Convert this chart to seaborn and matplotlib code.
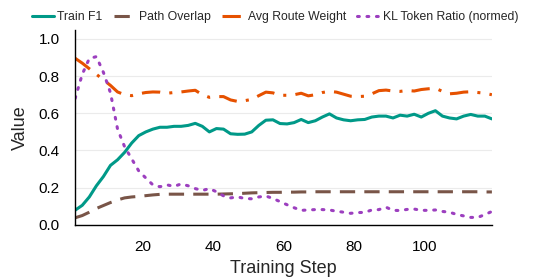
import numpy as np
import pandas as pd
import seaborn as sns
import matplotlib.pyplot as plt

# values, every 2nd training step
steps = list(range(1, 120, 2))

train_f1 = [0.079, 0.105, 0.15, 0.21, 0.26, 0.32, 0.35, 0.39, 0.44, 0.48,
            0.50, 0.515, 0.525, 0.525, 0.53, 0.53, 0.535, 0.546, 0.53, 0.50,
            0.518, 0.515, 0.49, 0.487, 0.488, 0.50, 0.535, 0.563, 0.565, 0.545,
            0.543, 0.55, 0.567, 0.55, 0.56, 0.58, 0.597, 0.575, 0.565, 0.56,
            0.565, 0.567, 0.58, 0.585, 0.585, 0.575, 0.59, 0.585, 0.595, 0.58,
            0.60, 0.614, 0.585, 0.575, 0.57, 0.585, 0.594, 0.585, 0.585, 0.57]

path_overlap = [0.038, 0.05, 0.068, 0.088, 0.104, 0.12, 0.134, 0.145, 0.15, 0.153,
                0.157, 0.161, 0.164, 0.165, 0.165, 0.165, 0.165, 0.165, 0.165, 0.165,
                0.165, 0.166, 0.167, 0.168, 0.17, 0.172, 0.173, 0.174, 0.175, 0.175,
                0.176, 0.176, 0.177, 0.177, 0.178, 0.178, 0.178, 0.178, 0.178, 0.178,
                0.178, 0.178, 0.178, 0.178, 0.178, 0.178, 0.178, 0.178, 0.178, 0.178,
                0.178, 0.178, 0.178, 0.178, 0.178, 0.178, 0.178, 0.178, 0.177, 0.177]

route_weight = [0.896, 0.87, 0.84, 0.81, 0.78, 0.75, 0.715, 0.70, 0.695, 0.705,
                0.712, 0.715, 0.714, 0.708, 0.712, 0.715, 0.72, 0.724, 0.70, 0.686,
                0.69, 0.69, 0.672, 0.664, 0.668, 0.675, 0.695, 0.714, 0.71, 0.697,
                0.697, 0.70, 0.708, 0.694, 0.70, 0.712, 0.718, 0.714, 0.703, 0.692,
                0.69, 0.692, 0.705, 0.722, 0.725, 0.72, 0.718, 0.723, 0.72, 0.728,
                0.732, 0.735, 0.718, 0.705, 0.708, 0.714, 0.716, 0.712, 0.708, 0.70]

kl_ratio = [0.68, 0.81, 0.895, 0.905, 0.82, 0.71, 0.515, 0.42, 0.355, 0.29,
            0.252, 0.215, 0.205, 0.215, 0.207, 0.22, 0.21, 0.195, 0.185, 0.195,
            0.178, 0.156, 0.145, 0.15, 0.142, 0.14, 0.15, 0.155, 0.142, 0.125,
            0.108, 0.092, 0.078, 0.08, 0.082, 0.082, 0.08, 0.073, 0.068, 0.062,
            0.066, 0.067, 0.08, 0.082, 0.095, 0.078, 0.077, 0.083, 0.085, 0.078,
            0.078, 0.08, 0.072, 0.068, 0.056, 0.048, 0.04, 0.04, 0.055, 0.072]

sns.set_theme(style="whitegrid")
plt.rcParams['font.family'] = ['Liberation Sans', 'DejaVu Sans']

fig, ax = plt.subplots(figsize=(5.37, 2.8), dpi=100)
fig.subplots_adjust(left=0.14, right=0.916, bottom=0.197, top=0.894)

series = [
    ('Train F1', train_f1, '#009988', '-'),
    ('Path Overlap', path_overlap, '#795548', (0, (5, 3))),
    ('Avg Route Weight', route_weight, '#e65100', (0, (6, 3, 1, 3))),
    ('KL Token Ratio (normed)', kl_ratio, '#9c3fbf', (0, (0.6, 2.5))),
]
for name, vals, col, ls in series:
    sns.lineplot(x=steps, y=vals, ax=ax, color=col, linestyle=ls,
                 linewidth=2.2, label=name,
                 dash_capstyle='round' if name.startswith('KL') else 'butt')

ax.set_xlim(1, 119)
ax.set_ylim(0, 1.05)
ax.set_xticks([20, 40, 60, 80, 100])
ax.set_yticks([0, 0.2, 0.4, 0.6, 0.8, 1.0])
ax.set_yticklabels(['0.0', '0.2', '0.4', '0.6', '0.8', '1.0'])
ax.grid(axis='x', visible=False)
ax.grid(axis='y', color='#ebebeb', linewidth=0.8)
for s in ['top', 'right']:
    ax.spines[s].set_visible(False)
for s in ['left', 'bottom']:
    ax.spines[s].set_color('black')
    ax.spines[s].set_linewidth(1.0)
ax.tick_params(axis='both', direction='out', length=6, width=1, color='black',
               labelsize=11, labelcolor='black', pad=5)
ax.set_xlabel('Training Step', fontsize=13, labelpad=4)
ax.set_ylabel('Value', fontsize=13, labelpad=7)

ax.get_legend().remove()
handles, labels = ax.get_legend_handles_labels()
fig.legend(handles, labels, loc='center', bbox_to_anchor=(0.512, 0.94), ncol=4,
           frameon=False, fontsize=8.8, handlelength=1.8, columnspacing=0.9,
           handletextpad=0.3)

fig.savefig('out.png', dpi=100)
